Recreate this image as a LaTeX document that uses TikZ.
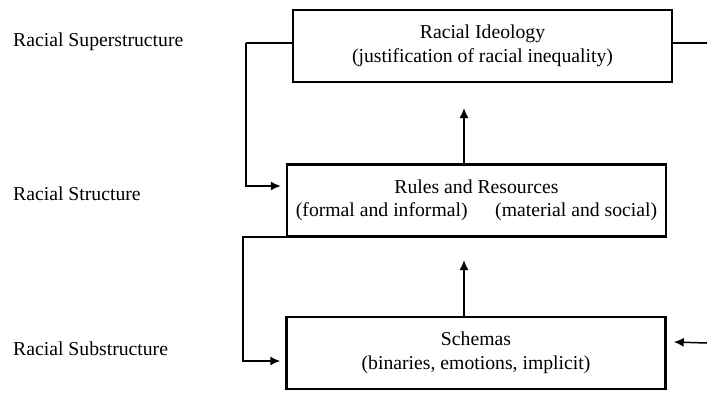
\documentclass[tikz,border=0pt]{standalone}
\usepackage{fontspec}
\setmainfont{Liberation Serif}
\usetikzlibrary{arrows.meta, positioning}
\tikzstyle{block} = [rectangle, draw, line width=2.5pt, minimum width=379pt, minimum height=72pt, align=center, inner sep=0pt]
\tikzstyle{line} = [draw, line width=1.5pt, -{Latex[length=10pt,width=9pt]}]
\tikzstyle{level} = [anchor=base west, inner sep=0pt]

\begin{document}
\begin{tikzpicture}[x=1pt, y=1pt, every node/.style={font=\fontsize{19.7pt}{23.5pt}\selectfont}]
	\useasboundingbox (0,0) rectangle (707,392);

	\node[block] (ideology) at (482.5,346) {Racial Ideology\\(justification of racial inequality)};
	\node[block, below=80pt of ideology, xshift=-6pt] (structure) {Rules and Resources\\(formal and informal)\hspace{1.4em}(material and social)};
	\node[block, below=78pt of structure, xshift=-0.5pt] (schemas) {Schemas\\(binaries, emotions, implicit)};

	\node[level] (superlabel) at (13,345.5) {Racial Superstructure};
	\node[level] (structlabel) at (13,192) {Racial Structure};
	\node[level] (sublabel) at (13,37) {Racial Substructure};

	\coordinate (loopA) at (246,349);
	\coordinate (loopB) at (243,155);
	\coordinate (tipA) at (464,284);
	\coordinate (tipB) at (464,132);
	\coordinate (edgeA) at (707,349);
	\coordinate (edgeB) at (707,49);

	\path [line] (structure.north -| tipA) -- (tipA);
	\path [line] (schemas.north -| tipB) -- (tipB);

	\draw [line width=1.5pt] (ideology.west |- loopA) -- (loopA);
	\path [line] (loopA) |- ([xshift=-5pt, yshift=14.5pt]structure.west);
	\draw [line width=1.5pt] ([yshift=1pt]structure.south west) -| (loopB);
	\path [line] (loopB) |- ([xshift=-5pt, yshift=-8pt]schemas.west);

	\draw [line width=1.5pt] (ideology.east |- edgeA) -- (edgeA);
	\path [line] (edgeB) -- ([xshift=7pt, yshift=11pt]schemas.east);
\end{tikzpicture}
\end{document}
